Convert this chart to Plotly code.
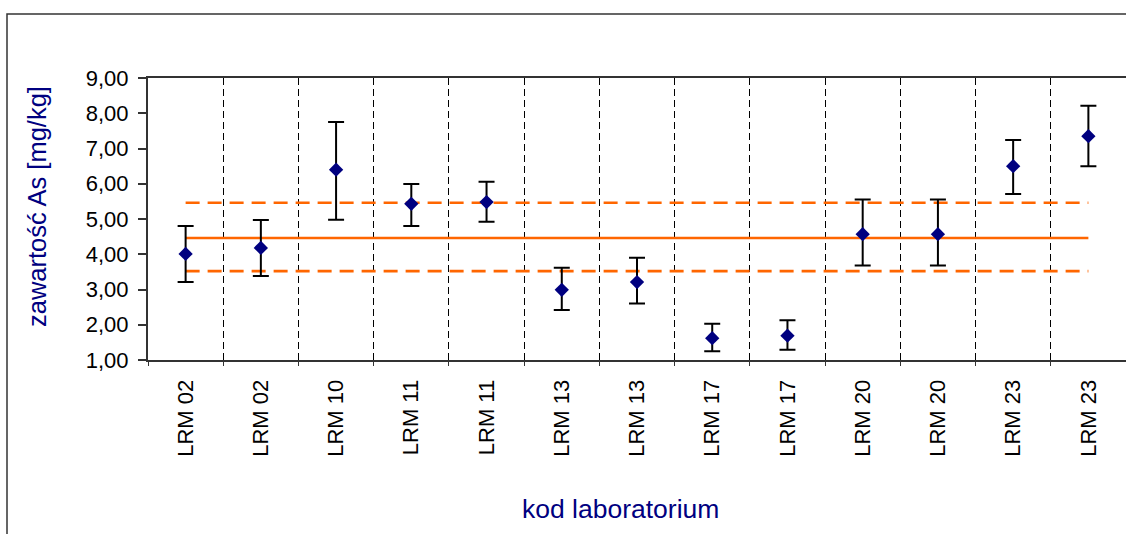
import plotly.graph_objects as go

# Laboratory codes (each lab reported two results)
labs = ["LRM 02", "LRM 02", "LRM 10", "LRM 11", "LRM 11", "LRM 13", "LRM 13",
        "LRM 17", "LRM 17", "LRM 20", "LRM 20", "LRM 23", "LRM 23"]

# Reported As content [mg/kg] and expanded uncertainty
results = [4.01, 4.18, 6.40, 5.43, 5.48, 2.99, 3.21, 1.62, 1.69, 4.57, 4.57, 6.50, 7.35]
unc_plus = [0.79, 0.79, 1.35, 0.56, 0.58, 0.63, 0.69, 0.41, 0.44, 0.98, 0.98, 0.74, 0.86]
unc_minus = [0.80, 0.80, 1.42, 0.63, 0.56, 0.57, 0.61, 0.37, 0.40, 0.89, 0.89, 0.79, 0.85]

# Assigned value and its acceptance limits
assigned = [4.46] * 13
upper_limit = [5.46] * 13
lower_limit = [3.52] * 13

positions = list(range(len(labs)))

W, H = 1126, 534
ML, MR, MT, MB = 148, 0, 78, 174
pw, ph = W - ML - MR, H - MT - MB

ORANGE = "#FF6600"
NAVY = "#000080"
AXIS = "#333333"

fig = go.Figure()

for ys, dash in [(upper_limit, "14px,8px"), (lower_limit, "14px,8px"), (assigned, "solid")]:
    fig.add_trace(go.Scatter(
        x=positions, y=ys, mode="lines",
        line=dict(color=ORANGE, width=2.6, dash=dash),
        hoverinfo="skip", showlegend=False,
    ))

fig.add_trace(go.Scatter(
    x=positions, y=results, mode="markers",
    marker=dict(symbol="diamond", size=11, color=NAVY, line=dict(width=0)),
    error_y=dict(type="data", symmetric=False, array=unc_plus, arrayminus=unc_minus,
                 color="black", thickness=2, width=8),
    showlegend=False,
))

fig.update_layout(
    width=W, height=H,
    margin=dict(l=ML, r=MR, t=MT, b=MB, pad=0),
    paper_bgcolor="white", plot_bgcolor="white",
    separators=", ",
    font=dict(family="Liberation Sans, Arial, sans-serif", color="black"),
    showlegend=False,
)

fig.update_xaxes(
    range=[-0.5, len(labs) - 0.5],
    tickmode="array", tickvals=positions, ticktext=labs,
    tickangle=-90, tickfont=dict(size=22, color="black"),
    ticks="", ticklabelstandoff=9,
    showgrid=False, zeroline=False,
    showline=True, linecolor=AXIS, linewidth=2, mirror=True,
    minor=dict(tickmode="linear", tick0=0.5, dtick=1,
               ticks="outside", ticklen=4, tickcolor=AXIS, tickwidth=1,
               showgrid=True, gridcolor="black", gridwidth=1, griddash="7px,4px"),
)

fig.update_yaxes(
    range=[1, 9], tickmode="linear", tick0=1, dtick=1, tickformat=".2f",
    tickfont=dict(size=22, color="black"),
    ticks="outside", ticklen=8, tickcolor=AXIS, tickwidth=1.5,
    ticklabelstandoff=5,
    showgrid=False, zeroline=False,
    showline=True, linecolor=AXIS, linewidth=2,
)

# Outer chart frame
fig.add_shape(type="rect", xref="paper", yref="paper",
              x0=(7 - ML) / pw, x1=1.05, y0=-1.0, y1=1 + (MT - 14) / ph,
              line=dict(color=AXIS, width=1.5), fillcolor="rgba(0,0,0,0)", layer="below")

# Axis titles
fig.add_annotation(text="zawartość As [mg/kg]", xref="paper", yref="paper",
                   x=(37 - ML) / pw, y=1 - (207 - MT) / ph,
                   textangle=-90, showarrow=False, xanchor="center", yanchor="middle",
                   font=dict(size=25.5, color=NAVY))
fig.add_annotation(text="kod laboratorium", xref="paper", yref="paper",
                   x=(620 - ML) / pw, y=1 - (509 - MT) / ph,
                   showarrow=False, xanchor="center", yanchor="middle",
                   font=dict(size=26.5, color=NAVY))

fig.write_html("out.html")
